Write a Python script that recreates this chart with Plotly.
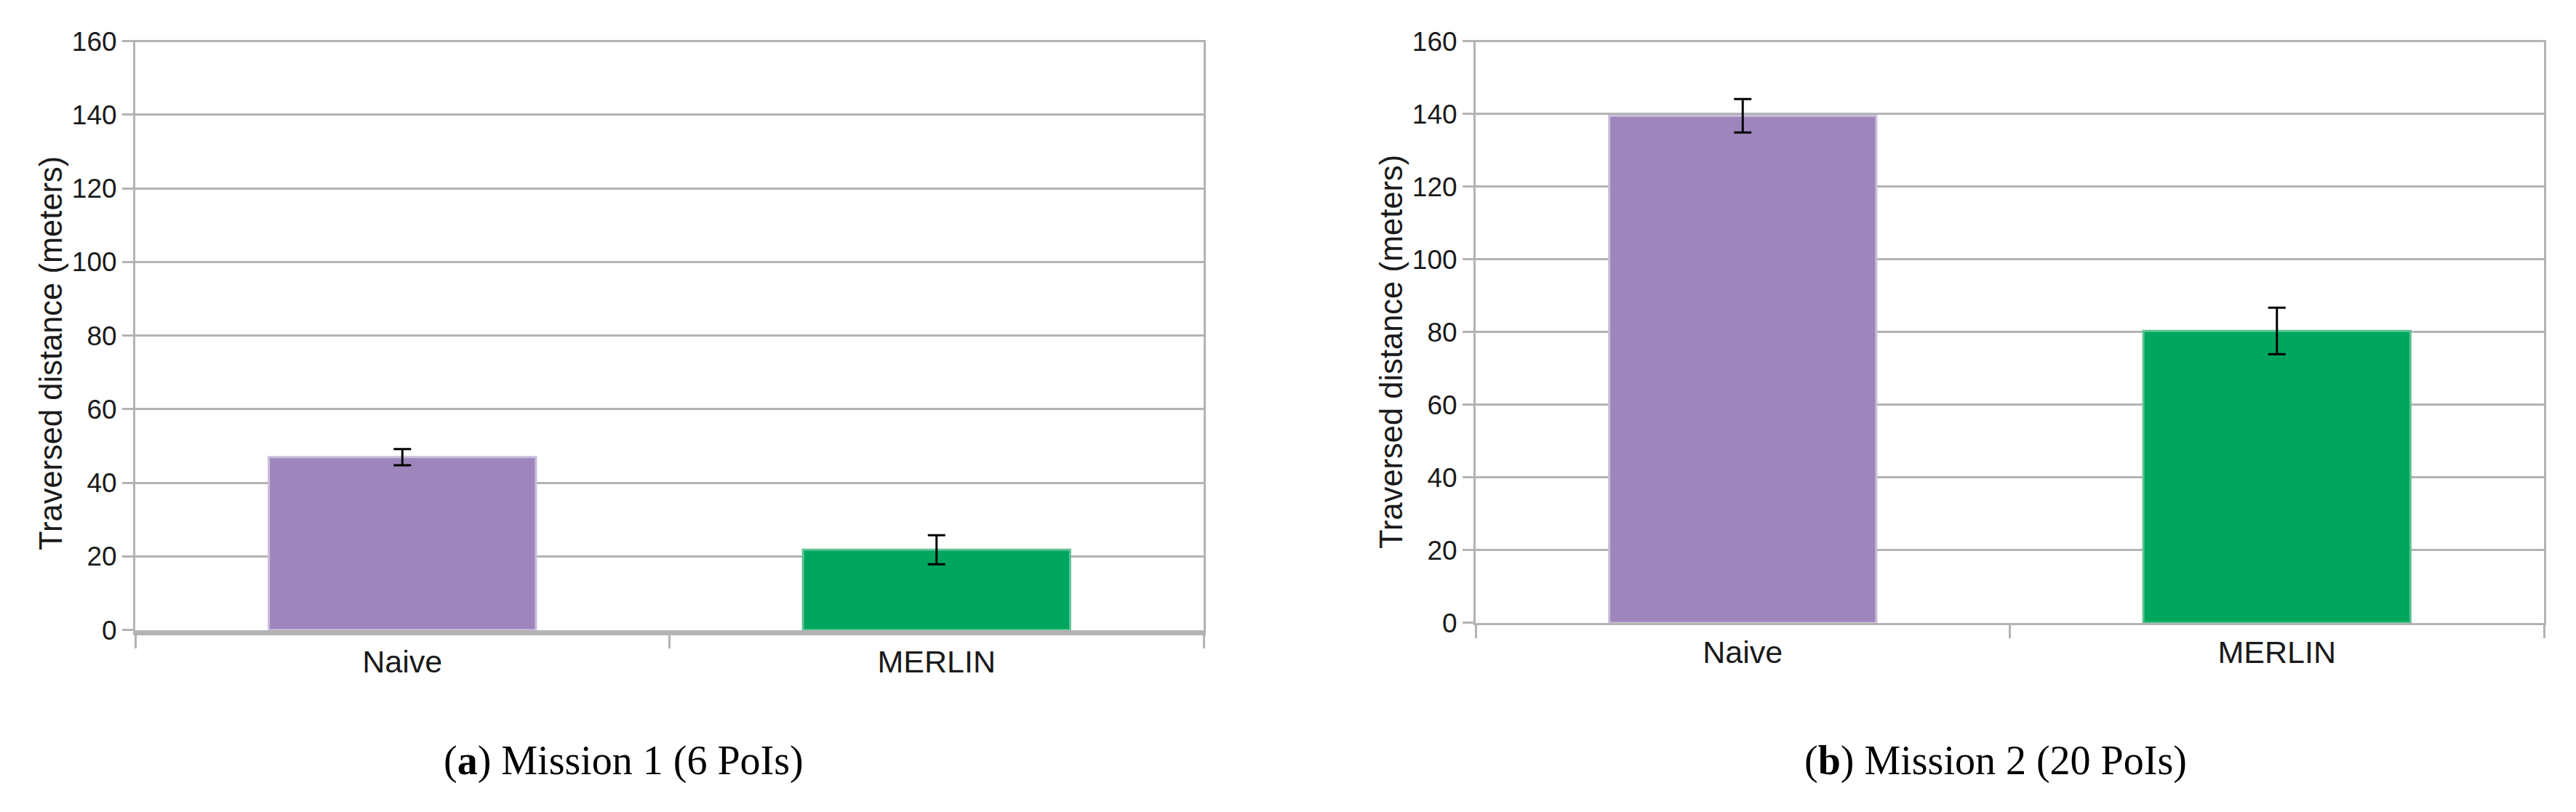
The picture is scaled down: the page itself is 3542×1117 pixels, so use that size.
import plotly.graph_objects as go

categories = ["Naive", "MERLIN"]
m1_mean = [47.0, 21.8]
m1_err = [2.2, 3.95]
m2_mean = [139.5, 80.3]
m2_err = [4.6, 6.4]
bar_colors = ["#9e86bd", "#00a65d"]
bar_edges = ["#c9bddb", "#5cc393"]
y_ticks = [0, 20, 40, 60, 80, 100, 120, 140, 160]
y_title = "Traversed distance (meters)"
captions = ["(<b>a</b>) Mission 1 (6 PoIs)", "(<b>b</b>) Mission 2 (20 PoIs)"]

W, H = 3542, 1117
OFF = 8  # default page body margin
FW, FH = W - 2 * OFF, H - 2 * OFF
GRID = "#b3b3b3"
TXT = "#1a1a1a"
SANS = "Liberation Sans, Arial, sans-serif"
SERIF = "Liberation Serif, Times New Roman, serif"
Y_TOP = 160.4

fig = go.Figure()
for i, (mean, err) in enumerate([(m1_mean, m1_err), (m2_mean, m2_err)]):
    sfx = "" if i == 0 else "2"
    fig.add_trace(go.Bar(
        x=categories, y=mean,
        xaxis="x" + sfx, yaxis="y" + sfx,
        marker=dict(color=bar_colors, line=dict(color=bar_edges, width=3)),
        error_y=dict(type="data", array=err, visible=True,
                     color="#000000", thickness=3, width=12),
        showlegend=False,
    ))

def px_x(p):
    return (p - OFF) / FW

def px_y(p):
    return 1 - (p - OFF) / FH

# pixel geometry of each panel (page pixels): y of value 0, y of value 160
panels = [dict(x0=186, x1=1655, y0=866.7, y160=56.7),
          dict(x0=2029, x1=3498, y0=857.0, y160=56.7)]
xline = [7, 3]

layout = dict(
    width=FW, height=FH,
    margin=dict(l=0, r=0, t=0, b=0, autoexpand=False),
    paper_bgcolor="white", plot_bgcolor="white",
    bargap=0.5,
    showlegend=False,
)
for i, p in enumerate(panels):
    sfx = "" if i == 0 else "2"
    ppu = (p["y0"] - p["y160"]) / 160.0
    ytop_px = p["y0"] - ppu * Y_TOP
    layout["xaxis" + sfx] = dict(
        domain=[px_x(p["x0"]), px_x(p["x1"])], anchor="y" + sfx, type="category",
        showline=True, linecolor=GRID, linewidth=xline[i],
        ticks="outside", tickson="boundaries", ticklen=18,
        tickcolor=GRID, tickwidth=3, showgrid=False, zeroline=False,
        automargin=False,
        tickfont=dict(family=SANS, size=43, color=TXT),
    )
    layout["yaxis" + sfx] = dict(
        domain=[px_y(p["y0"]), px_y(ytop_px)], anchor="x" + sfx,
        range=[0, Y_TOP], tickvals=y_ticks,
        showgrid=True, gridcolor=GRID, gridwidth=3,
        showline=True, mirror=True, linecolor=GRID, linewidth=3,
        ticks="outside", ticklen=15, tickcolor=GRID, tickwidth=3,
        zeroline=False, automargin=False,
        tickfont=dict(family=SANS, size=37, color=TXT),
    )

fig.update_layout(**layout)

ann = []
for xc, yc in [(70, 486), (1913, 484)]:
    ann.append(dict(
        text=y_title, xref="paper", yref="paper",
        x=px_x(xc), y=px_y(yc), xanchor="center", yanchor="middle",
        textangle=-90, showarrow=False,
        font=dict(family=SANS, size=43.5, color=TXT),
    ))
for cap, xc in zip(captions, [857, 2744]):
    ann.append(dict(
        text=cap, xref="paper", yref="paper",
        x=px_x(xc), y=px_y(1046), xanchor="center", yanchor="middle",
        showarrow=False,
        font=dict(family=SERIF, size=56, color="#000000"),
    ))
fig.update_layout(annotations=ann)

fig.write_html("out.html")
